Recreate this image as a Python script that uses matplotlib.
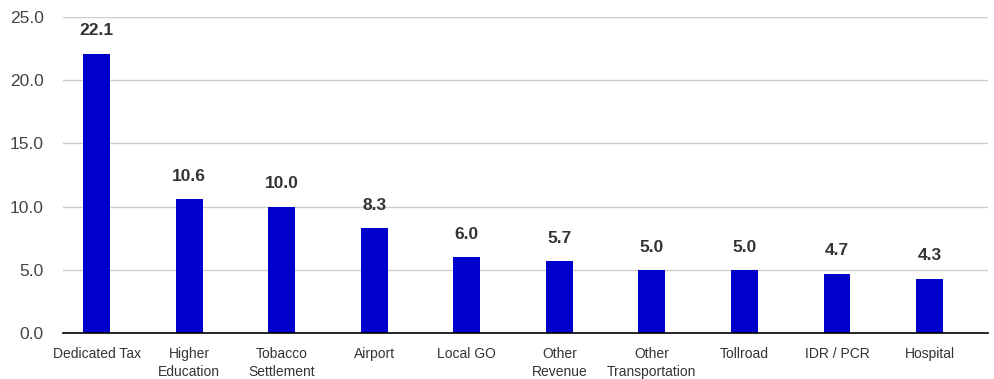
import matplotlib
matplotlib.use("Agg")
import matplotlib.pyplot as plt
import numpy as np

# chart data
categories = ["Dedicated Tax", "Higher\nEducation", "Tobacco\nSettlement", "Airport",
              "Local GO", "Other\nRevenue", "Other\nTransportation", "Tollroad",
              "IDR / PCR", "Hospital"]
values = [22.1, 10.6, 10.0, 8.3, 6.0, 5.7, 5.0, 5.0, 4.7, 4.3]

plt.rcParams["font.family"] = ["Liberation Sans", "DejaVu Sans"]

fig = plt.figure(figsize=(9.94, 3.79), dpi=100)
ax = fig.add_axes([63 / 994, 46 / 379, 925 / 994, 316 / 379])

x = np.arange(len(categories))
ax.bar(x, values, width=0.29, color="#0000cc", zorder=3)

for xi, v in zip(x, values):
    ax.text(xi, v + 1.2, f"{v:.1f}", ha="center", va="bottom",
            fontsize=12.5, fontweight="bold", color="#333333")

ax.set_xlim(-0.364, len(categories) - 0.368)
ax.set_ylim(0, 25)
ticks = np.arange(0, 26, 5)
ax.set_yticks(ticks)
ax.set_yticklabels([f"{t:.1f}" for t in ticks], fontsize=12.5, color="#444444")
ax.set_xticks(x)
ax.set_xticklabels(categories, fontsize=10, color="#333333", linespacing=1.35, va="top")

ax.grid(axis="y", color="#cccccc", linewidth=1, zorder=0)
ax.tick_params(axis="both", length=0)
ax.tick_params(axis="x", pad=10)
ax.tick_params(axis="y", pad=14)
for s in ["top", "right", "left"]:
    ax.spines[s].set_visible(False)
ax.spines["bottom"].set_color("black")
ax.spines["bottom"].set_linewidth(1.2)
ax.spines["bottom"].set_zorder(4)

fig.savefig("out.png", dpi=100)
